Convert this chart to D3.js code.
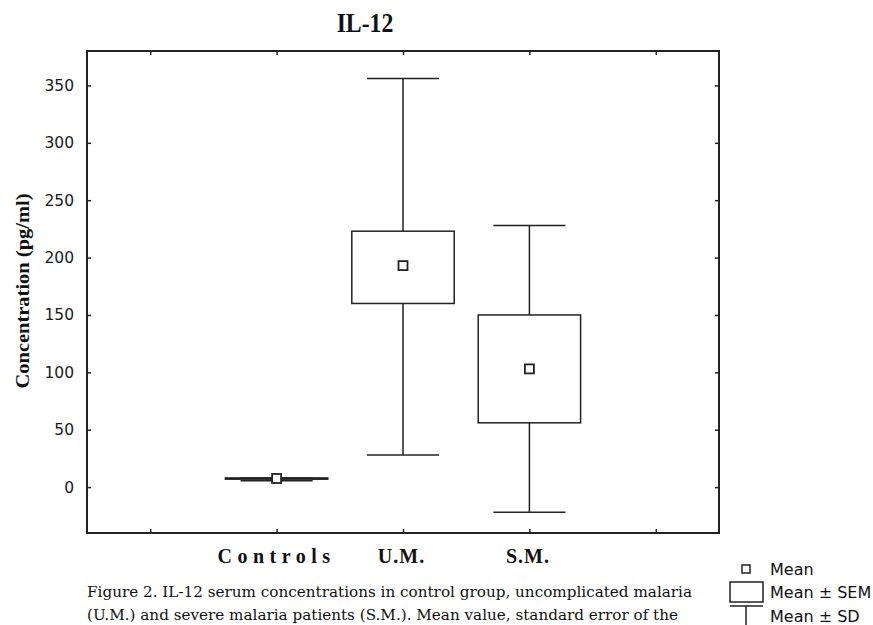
<!DOCTYPE html>
<html>
<head>
<meta charset="utf-8">
<script src="https://cdn.jsdelivr.net/npm/d3@7"></script>
<style>
    body { margin: 0; background: #fff; }
    svg { display: block; }
</style>
</head>
<body>
<div id="chart"></div>
<script>
// Groups and their summary values (pg/ml)
const groups = ["Controls", "U.M.", "S.M."];
const groupPos = [2, 3, 4];
const means = [7.5, 193, 103];
const semLow = [6.9, 160, 56];
const semHigh = [8.0, 223, 150];
const sdLow = [5.6, 28, -22];
const sdHigh = [8.0, 356, 228];

const yTicks = [0, 50, 100, 150, 200, 250, 300, 350];
const xTicks = [1, 2, 3, 4, 5];

const captionLines = [
    "Figure 2. IL-12 serum concentrations in control group, uncomplicated malaria",
    "(U.M.) and severe malaria patients (S.M.). Mean value, standard error of the",
];
const legendLabels = ["Mean", "Mean \u00b1 SEM", "Mean \u00b1 SD"];

const W = 873, H = 625;
const frame = { left: 87, top: 51, right: 719, bottom: 533 };
const ink = "#222";

const svg = d3.select("#chart").append("svg").attr("width", W).attr("height", H);

const x = d3.scaleLinear().domain([0.5, 5.5]).range([frame.left, frame.right]);
const y = d3.scaleLinear().domain([-40, 380]).range([frame.bottom, frame.top]);
const step = x(1) - x(0);

// Axes: ticks point inward on all four sides
const tickFont = "'DejaVu Sans', sans-serif";
function styleAxis(g) {
    g.select(".domain").remove();
    g.selectAll("line").attr("stroke", ink).attr("stroke-width", 1.5);
    g.selectAll("text").attr("font-family", tickFont).attr("font-size", 15.5).attr("fill", "#1a1a1a");
}

svg.append("g")
    .attr("transform", `translate(${frame.left},0)`)
    .call(d3.axisLeft(y).tickValues(yTicks).tickSizeInner(-4).tickSizeOuter(0).tickPadding(13))
    .call(styleAxis);
svg.append("g")
    .attr("transform", `translate(${frame.right},0)`)
    .call(d3.axisRight(y).tickValues(yTicks).tickSizeInner(-4).tickSizeOuter(0).tickFormat(""))
    .call(styleAxis);
svg.append("g")
    .attr("transform", `translate(0,${frame.top})`)
    .call(d3.axisTop(x).tickValues(xTicks).tickSizeInner(-4).tickSizeOuter(0).tickFormat(""))
    .call(styleAxis);
svg.append("g")
    .attr("transform", `translate(0,${frame.bottom})`)
    .call(d3.axisBottom(x).tickValues(xTicks).tickSizeInner(-4).tickSizeOuter(0).tickFormat(""))
    .call(styleAxis);

svg.append("rect")
    .attr("x", frame.left).attr("y", frame.top)
    .attr("width", frame.right - frame.left).attr("height", frame.bottom - frame.top)
    .attr("fill", "none").attr("stroke", ink).attr("stroke-width", 2);

// Whiskers (mean ± SD)
const capHalf = step * 0.285;
const boxHalf = step * 0.405;
const boxes = svg.append("g");
groups.forEach((g, i) => {
    const cx = x(groupPos[i]);
    boxes.append("line")
        .attr("x1", cx).attr("x2", cx)
        .attr("y1", y(sdLow[i])).attr("y2", y(sdHigh[i]))
        .attr("stroke", ink).attr("stroke-width", 1.5);
    [sdLow[i], sdHigh[i]].forEach((v) => {
        boxes.append("line")
            .attr("x1", cx - capHalf).attr("x2", cx + capHalf)
            .attr("y1", y(v)).attr("y2", y(v))
            .attr("stroke", ink).attr("stroke-width", 1.5);
    });
});

// Boxes (mean ± SEM) and mean markers
groups.forEach((g, i) => {
    const cx = x(groupPos[i]);
    boxes.append("rect")
        .attr("x", cx - boxHalf).attr("y", y(semHigh[i]))
        .attr("width", boxHalf * 2)
        .attr("height", Math.max(y(semLow[i]) - y(semHigh[i]), 0.5))
        .attr("fill", "#fff").attr("stroke", ink).attr("stroke-width", 1.5);
    boxes.append("rect")
        .attr("x", cx - 4.5).attr("y", y(means[i]) - 4.5)
        .attr("width", 9).attr("height", 9)
        .attr("fill", "#fff").attr("stroke", ink).attr("stroke-width", 1.8);
});

// Category labels
const catSpacing = [5.5, 1, 1];
const catDx = [0, -1.5, -1.5];
svg.append("g").selectAll("text")
    .data(groups)
    .join("text")
    .attr("x", (d, i) => x(groupPos[i]) + catDx[i])
    .attr("y", 563)
    .attr("text-anchor", "middle")
    .attr("font-family", "'Liberation Serif', serif")
    .attr("font-weight", "bold")
    .attr("font-size", 20)
    .attr("letter-spacing", (d, i) => catSpacing[i])
    .attr("fill", "#111")
    .text((d) => d);

// Title
svg.append("text")
    .attr("transform", "translate(365,32) scale(0.95,1.1)")
    .attr("text-anchor", "middle")
    .attr("font-family", "'Liberation Serif', serif")
    .attr("font-weight", "bold")
    .attr("font-size", 25)
    .attr("fill", "#111")
    .text("IL-12");

// Y axis title
svg.append("text")
    .attr("transform", "translate(29,291) rotate(-90)")
    .attr("text-anchor", "middle")
    .attr("font-family", "'Liberation Serif', serif")
    .attr("font-weight", "bold")
    .attr("font-size", 19)
    .attr("textLength", 195)
    .attr("lengthAdjust", "spacingAndGlyphs")
    .attr("fill", "#111")
    .text("Concentration (pg/ml)");

// Caption
const captionWidths = [605, 591];
svg.append("g").selectAll("text")
    .data(captionLines)
    .join("text")
    .attr("x", 87)
    .attr("y", (d, i) => 597 + i * 23)
    .attr("font-family", "'DejaVu Serif', serif")
    .attr("font-size", 14)
    .attr("textLength", (d, i) => captionWidths[i])
    .attr("lengthAdjust", "spacingAndGlyphs")
    .attr("fill", "#111")
    .text((d) => d);

// Legend
const legend = svg.append("g");
const lx = 746;
legend.append("rect")
    .attr("x", lx - 4).attr("y", 565)
    .attr("width", 8).attr("height", 8)
    .attr("fill", "#fff").attr("stroke", ink).attr("stroke-width", 1.5);
legend.append("rect")
    .attr("x", 730).attr("y", 582)
    .attr("width", 33).attr("height", 20)
    .attr("fill", "#fff").attr("stroke", ink).attr("stroke-width", 1.5);
legend.append("line")
    .attr("x1", 730).attr("x2", 763).attr("y1", 606).attr("y2", 606)
    .attr("stroke", ink).attr("stroke-width", 1.5);
legend.append("line")
    .attr("x1", lx).attr("x2", lx).attr("y1", 606).attr("y2", 630)
    .attr("stroke", ink).attr("stroke-width", 1.5);
legend.selectAll("text.lab")
    .data(legendLabels)
    .join("text")
    .attr("class", "lab")
    .attr("x", 770)
    .attr("y", (d, i) => 575 + i * 23.3)
    .attr("font-family", tickFont)
    .attr("font-size", 16)
    .attr("fill", "#111")
    .text((d) => d);
</script>
</body>
</html>
